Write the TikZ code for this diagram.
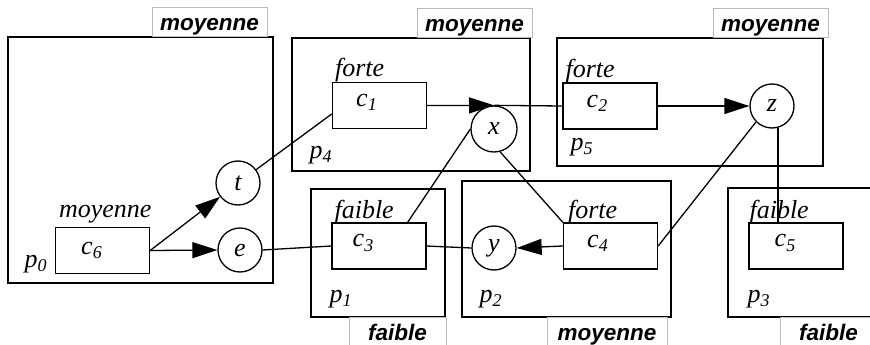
\documentclass[tikz,border=0pt]{standalone}
\usepackage{fontspec}
\setmainfont{Liberation Serif}
\newfontfamily\tagsans{Liberation Sans}
\usetikzlibrary{arrows.meta,positioning}
\newcommand{\cname}[2]{\textit{#1}\raisebox{-0.35ex}{\fontsize{18}{18}\selectfont\textit{#2}}}
\tikzset{
  part/.style={rectangle, draw=black, line width=1.3pt, inner sep=0pt},
  cbox/.style={rectangle, draw=black, line width=1.3pt, minimum width=94pt,
    minimum height=46pt, inner sep=0pt},
  var/.style={circle, draw=black, line width=1.3pt, minimum size=44pt,
    inner sep=0pt, font=\fontsize{26}{26}\selectfont\itshape},
  tag/.style={rectangle, draw=gray!55, line width=0.5pt, inner sep=0pt,
    text height=23pt, font=\fontsize{22.5}{22.5}\selectfont\tagsans\bfseries\itshape},
  toptag/.style={tag, anchor=south, text depth=6pt},
  bottag/.style={tag, anchor=north, text depth=14pt},
  level/.style={font=\fontsize{26}{26}\selectfont\itshape, inner sep=0pt, anchor=base west},
  inlabel/.style={font=\fontsize{26}{26}\selectfont, xshift=-13pt, yshift=3pt},
  link/.style={line width=1.3pt},
  flowarrow/.style={line width=1.3pt, -{Triangle[length=25pt,width=16pt]}}
}
\begin{document}
\begin{tikzpicture}[x=1pt, y=-1pt]
\useasboundingbox (0,0) rectangle (870,345);
\clip (0,0) rectangle (870,345);
% processes
\node[part, minimum width=265pt, minimum height=246pt] (p0) at (140.5,160) {};
\node[part, minimum width=238pt, minimum height=133pt] (p4) at (411,104.5) {};
\node[part, minimum width=266pt, minimum height=128pt] (p5) at (690,102) {};
\node[part, minimum width=134pt, minimum height=128pt] (p1) at (378,253) {};
\node[part, minimum width=209pt, minimum height=136pt] (p2) at (566.5,249) {};
\node[part, minimum width=172pt, minimum height=129pt] (p3) at (814,252.5) {};
\node[level] (p0l) at ([xshift=17pt,yshift=16pt]p0.south west) {\cname{p}{0}};
\node[level] (p4l) at ([xshift=18pt,yshift=13pt]p4.south west) {\cname{p}{4}};
\node[level] (p5l) at ([xshift=14pt,yshift=16pt]p5.south west) {\cname{p}{5}};
\node[level] (p1l) at ([xshift=19pt,yshift=15pt]p1.south west) {\cname{p}{1}};
\node[level] (p2l) at ([xshift=18pt,yshift=15pt]p2.south west) {\cname{p}{2}};
\node[level] (p3l) at ([xshift=20pt,yshift=15pt]p3.south west) {\cname{p}{3}};
% tags
\node[toptag, minimum width=115pt] (tag0) at (209.5,37) {moyenne};
\node[toptag, minimum width=115pt] (tag4) at (474.5,38) {moyenne};
\node[toptag, minimum width=115pt] (tag5) at (770.5,38) {moyenne};
\node[bottag, minimum width=97pt] (tag1) at (397.5,317) {faible};
\node[bottag, minimum width=120pt] (tag2) at (607,317) {moyenne};
\node[bottag, minimum width=97pt] (tag3) at (828.5,317) {faible};
% components
\node[cbox, label={[inlabel, xshift=2pt, yshift=-3pt]center:\cname{c}{6}}] (c6) at (102.5,250.5) {};
\node[cbox, label={[inlabel]center:\cname{c}{1}}] (c1) at (379.5,105.5) {};
\node[cbox, label={[inlabel]center:\cname{c}{2}}] (c2) at (610,106) {};
\node[cbox, label={[inlabel, xshift=-3pt]center:\cname{c}{3}}] (c3) at (379,246) {};
\node[cbox, label={[inlabel]center:\cname{c}{4}}] (c4) at (610.5,246) {};
\node[cbox, label={[inlabel, xshift=2pt]center:\cname{c}{5}}] (c5) at (796,246) {};
\node[level] (lv6) at ([xshift=4pt,yshift=9pt]c6.north west) {moyenne};
\node[level] (lv1) at ([xshift=3pt,yshift=5pt]c1.north west) {forte};
\node[level] (lv2) at ([xshift=3pt,yshift=5pt]c2.north west) {forte};
\node[level] (lv3) at ([xshift=3pt,yshift=4pt]c3.north west) {faible};
\node[level] (lv4) at ([xshift=5pt,yshift=4pt]c4.north west) {forte};
\node[level] (lv5) at ([xshift=1pt,yshift=4pt]c5.north west) {faible};
% variables
\node[var] (t) at (238,183) {t};
\node[var] (e) at (240,250) {e};
\node[var, minimum size=46pt] (x) at (494,129) {x};
\node[var] (y) at (494,248) {y};
\node[var] (z) at (772,106) {z};
% links
\draw[flowarrow] (c6.east) -- (t);
\draw[flowarrow] (c6.east) -- (e.west);
\draw[link] (t) -- (c1.190);
\draw[link] (e.east) -- (c3.west);
\draw[flowarrow] (c1.east) -- (x.north);
\draw[link] (x.north) -- (c2.west);
\draw[flowarrow] (c2.east) -- (z.west);
\draw[link] (x.west) -- ([xshift=-19pt]c3.north east);
\draw[link] (x.-75) -- (c4.north west);
\draw[link] (c3.east) -- (y.west);
\draw[flowarrow] (c4.west) -- (y.east);
\draw[link] (c4.east) -- (z.225);
\draw[link] (z.-75) -- (z.-75 |- c5.north);
\end{tikzpicture}
\end{document}
